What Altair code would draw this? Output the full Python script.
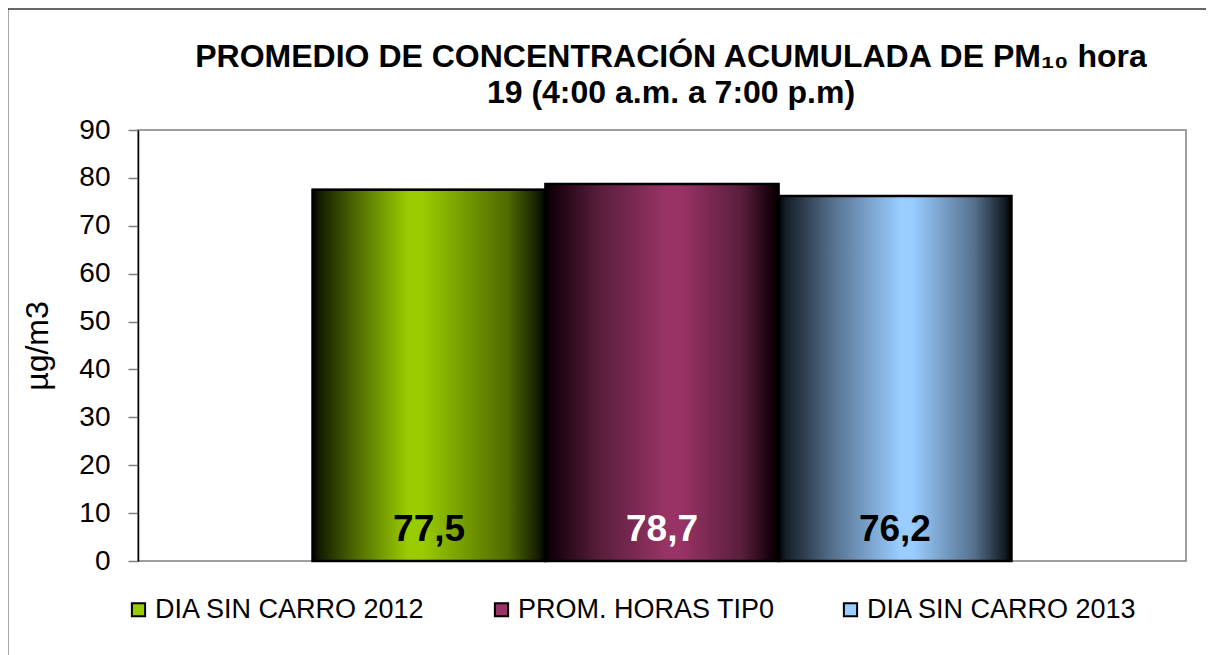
import altair as alt
import pandas as pd

# ---- data ----
series = ["DIA SIN CARRO 2012", "PROM. HORAS TIP0", "DIA SIN CARRO 2013"]
values = [77.5, 78.7, 76.2]
label_colors = ["black", "white", "black"]
y_ticks = [0, 10, 20, 30, 40, 50, 60, 70, 80, 90]
title_lines = ["PROMEDIO DE CONCENTRACIÓN ACUMULADA DE PM₁₀ hora", "19 (4:00 a.m. a 7:00 p.m)"]
y_title = "µg/m3"

# ---- styles ----
base_colors = ["#99cc00", "#993366", "#99ccff"]
mid_colors = ["#4f6a00", "#5a1e3c", "#56718e"]
dark_colors = ["#141c00", "#16000b", "#141d28"]
peak_pos = [0.41, 0.52, 0.52]
FONT = "Liberation Sans"

df = pd.DataFrame({
    "serie": series,
    "valor": values,
    "etiqueta": [f"{v:.1f}".replace(".", ",") for v in values],
})

x_enc = alt.X("serie:N", sort=series, axis=None,
              scale=alt.Scale(domain=series, paddingInner=0, paddingOuter=0.75))
y_enc = alt.Y("valor:Q",
              scale=alt.Scale(domain=[0, 90], nice=False),
              axis=alt.Axis(values=y_ticks, title=y_title, grid=False))

base = alt.Chart(df)

legend_layer = base.mark_bar(stroke="black", strokeWidth=2).encode(
    x=x_enc, y=y_enc,
    color=alt.Color("serie:N", sort=series,
                    scale=alt.Scale(domain=series, range=base_colors),
                    legend=alt.Legend(
                        title=None, orient="none", direction="horizontal",
                        legendX=-13, legendY=466, columns=3, columnPadding=62,
                        symbolType="square", symbolSize=175,
                        symbolStrokeColor="black", symbolStrokeWidth=2,
                        labelFont=FONT, labelFontSize=27, labelColor="black",
                        labelOffset=3, labelLimit=500)),
)

grad_layers = []
for s, c, m, d, p in zip(series, base_colors, mid_colors, dark_colors, peak_pos):
    grad = alt.LinearGradient(
        gradient="linear", x1=0, x2=1, y1=0, y2=0,
        stops=[
            alt.GradientStop(color="#000000", offset=0),
            alt.GradientStop(color=d, offset=0.03),
            alt.GradientStop(color=m, offset=p * 0.45),
            alt.GradientStop(color=c, offset=p),
            alt.GradientStop(color=c, offset=p + 0.06),
            alt.GradientStop(color=m, offset=0.84),
            alt.GradientStop(color=d, offset=0.97),
            alt.GradientStop(color="#000000", offset=1),
        ])
    grad_layers.append(
        base.transform_filter(alt.datum.serie == s)
        .mark_bar(color=grad, stroke="black", strokeWidth=2.5)
        .encode(x=x_enc, y=y_enc)
    )

labels = base.mark_text(font=FONT, fontSize=37, fontWeight="bold",
                        baseline="alphabetic", dy=-20).encode(
    x=x_enc,
    y=alt.datum(0),
    text="etiqueta:N",
    color=alt.condition(alt.datum.serie == series[1], alt.value(label_colors[1]), alt.value(label_colors[0])),
)

frame_df = pd.DataFrame({"k": [0]})
title_text = alt.Chart(frame_df).mark_text(
    text=title_lines, font=FONT, fontSize=32, fontWeight="bold", color="black",
    align="center", baseline="alphabetic", lineHeight=36,
).encode(x=alt.value(533), y=alt.value(-63))

left_border = alt.Chart(frame_df).mark_rule(color="#8a8a8a", strokeWidth=1.5).encode(
    x=alt.value(-130), y=alt.value(-121), y2=alt.value(560))
top_border = alt.Chart(frame_df).mark_rule(color="#333333", strokeWidth=1.5).encode(
    x=alt.value(-130), x2=alt.value(1100), y=alt.value(-121))

chart = alt.layer(legend_layer, *grad_layers, labels, title_text, left_border, top_border).properties(
    width=1048, height=431,
    autosize=alt.AutoSizeParams(type="none"),
    padding={"left": 130, "top": 122, "right": 20, "bottom": 100},
    background="white",
).configure_view(stroke="#808080", strokeWidth=1.5).configure_axis(
    labelFont=FONT, labelFontSize=28, labelColor="black", labelPadding=18,
    tickColor="#808080", tickSize=10, tickWidth=1.5,
    domainColor="black", domainWidth=1.5,
    titleFont=FONT, titleFontSize=32, titleFontWeight="normal", titleColor="black",
    titlePadding=24,
)

chart.save("out.html", embed_options={"renderer": "svg", "actions": False})
